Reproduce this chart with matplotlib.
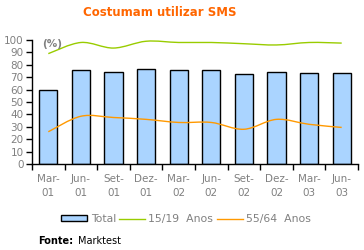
import matplotlib
matplotlib.use("Agg")
import matplotlib.pyplot as plt
import numpy as np
from matplotlib.path import Path
from matplotlib.patches import PathPatch
from matplotlib.lines import Line2D
from matplotlib.patches import Rectangle

categories = ["Mar-\n01", "Jun-\n01", "Set-\n01", "Dez-\n01", "Mar-\n02",
              "Jun-\n02", "Set-\n02", "Dez-\n02", "Mar-\n03", "Jun-\n03"]
total = [59.5, 75.5, 74.5, 77, 76, 75.5, 72.5, 74, 73, 73]
anos_15_19 = [89, 98, 93.5, 99, 98, 98, 97, 96, 98, 97.5]
anos_55_64 = [26, 38.5, 37.5, 36, 33.5, 33.5, 28, 36, 32, 29.5]

GRAY = "#808080"
BLUE = "#AAD4FF"
GREEN = "#99CC00"
ORANGE = "#FF9900"

fig = plt.figure(figsize=(3.64, 2.50), dpi=100)
ax = fig.add_axes([32/364, 86/250, 326/364, 124/250])

x = np.arange(len(categories))
ax.bar(x, total, width=0.56, color=BLUE, edgecolor="black", linewidth=1.0, zorder=2)

def smooth_path(xs, ys):
    pts = np.column_stack([xs, ys]).astype(float)
    verts = [pts[0]]
    codes = [Path.MOVETO]
    n = len(pts)
    for i in range(n - 1):
        p0 = pts[i - 1] if i > 0 else pts[i]
        p1 = pts[i]
        p2 = pts[i + 1]
        p3 = pts[i + 2] if i + 2 < n else pts[i + 1]
        c1 = p1 + (p2 - p0) / 6.0
        c2 = p2 - (p3 - p1) / 6.0
        verts += [c1, c2, p2]
        codes += [Path.CURVE4] * 3
    return Path(verts, codes)

for ys, col in [(anos_15_19, GREEN), (anos_55_64, ORANGE)]:
    ax.add_patch(PathPatch(smooth_path(x, ys), facecolor="none", edgecolor=col,
                           linewidth=1.0, zorder=3))

ax.set_xlim(-0.5, len(categories) - 0.5)
ax.set_ylim(0, 100)
ax.set_yticks(range(0, 101, 10))
ax.set_xticks(x)
ax.set_xticklabels(categories, color=GRAY, fontsize=7.5, linespacing=1.5)
ax.set_xticks(np.arange(-0.5, len(categories), 1.0), minor=True)
ax.tick_params(axis="x", which="major", length=0, pad=7)
ax.tick_params(axis="x", which="minor", length=4, width=1, color="black", direction="out")
ax.tick_params(axis="y", length=4, width=1, color="black", labelcolor=GRAY, labelsize=7.5, pad=2)
for s in ["top", "right"]:
    ax.spines[s].set_visible(False)
for s in ["left", "bottom"]:
    ax.spines[s].set_linewidth(1.0)
    ax.spines[s].set_color("black")

ax.text(0.03, 0.97, "(%)", transform=ax.transAxes, color=GRAY, fontsize=7.5,
        fontweight="bold", va="center", ha="left")

fig.text(160/364, 1 - 12/250, "Costumam utilizar SMS", color="#FF6600",
         fontsize=8.5, fontweight="bold", ha="center", va="center")

handles = [Rectangle((0, 0), 1, 1, facecolor=BLUE, edgecolor="black", linewidth=1.0),
           Line2D([], [], color=GREEN, linewidth=1.0),
           Line2D([], [], color=ORANGE, linewidth=1.0)]
leg = fig.legend(handles, ["Total", "15/19  Anos", "55/64  Anos"], loc="center",
                 bbox_to_anchor=(186/364, 1 - 219/250), ncol=3, frameon=False,
                 fontsize=7.8, handlelength=2.4, handleheight=0.5, handletextpad=0.3,
                 columnspacing=0.3, borderpad=0)
for t in leg.get_texts():
    t.set_color(GRAY)

fig.text(38/364, 1 - 241/250, "Fonte:", fontsize=7, fontweight="bold",
         ha="left", va="center", color="black")
fig.text(78/364, 1 - 241/250, "Marktest", fontsize=7, ha="left", va="center", color="black")

fig.savefig("out.png", dpi=100)
